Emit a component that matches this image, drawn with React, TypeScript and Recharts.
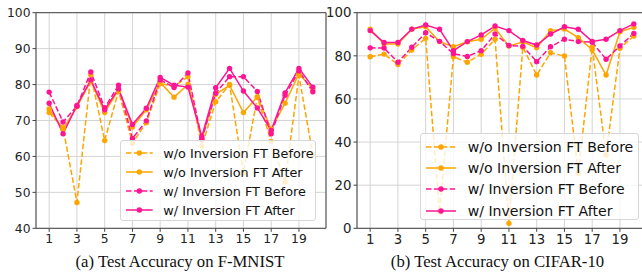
import React from "react";
import { LineChart, Line, XAxis, YAxis, CartesianGrid, ReferenceLine } from "recharts";

const ORANGE = "#ffa500";
const PINK = "#ff1493";
const DASH = "5.5 2.4";

const runs = [1, 2, 3, 4, 5, 6, 7, 8, 9, 10, 11, 12, 13, 14, 15, 16, 17, 18, 19, 20];
const xTicks = [1, 3, 5, 7, 9, 11, 13, 15, 17, 19];

// (a) F-MNIST
const fmWoBefore = [72.2, 68.0, 47.2, 82.7, 64.4, 78.2, 63.7, 69.4, 80.3, 79.5, 82.2, 62.8, 75.2, 80.0, 55.4, 76.5, 64.2, 52.9, 82.5, 60.5];
const fmWoAfter = [73.2, 67.5, 73.8, 81.0, 72.2, 78.5, 68.2, 73.0, 80.6, 76.5, 80.0, 65.0, 77.3, 79.8, 72.2, 76.6, 67.6, 74.8, 83.0, 78.8];
const fmWBefore = [77.9, 69.6, 74.0, 83.5, 73.5, 79.8, 65.0, 69.9, 81.3, 79.2, 83.2, 64.8, 77.6, 82.2, 82.2, 78.1, 66.3, 77.0, 83.8, 78.0];
const fmWAfter = [74.8, 66.3, 74.2, 81.3, 73.0, 78.8, 68.9, 73.4, 82.0, 79.8, 79.3, 65.5, 79.1, 84.5, 78.2, 73.5, 67.2, 77.7, 84.5, 79.3];
const fmYTicks = [40, 50, 60, 70, 80, 90, 100];

// (b) CIFAR-10
const cfWoBefore = [79.6, 80.8, 76.0, 82.7, 88.1, 7.5, 79.6, 77.0, 80.7, 87.7, 2.3, 84.0, 71.1, 81.4, 79.9, 25.5, 84.0, 34.0, 83.5, 89.2];
const cfWoAfter = [92.4, 85.5, 85.5, 92.4, 93.5, 86.6, 84.2, 86.5, 87.7, 92.8, 84.5, 86.5, 83.7, 91.7, 92.4, 88.4, 82.8, 71.1, 91.2, 93.2];
const cfWBefore = [83.7, 83.6, 77.0, 84.0, 90.7, 86.7, 81.0, 79.7, 82.4, 90.1, 84.8, 84.4, 77.3, 84.2, 87.7, 86.6, 86.3, 78.4, 84.6, 90.4];
const cfWAfter = [91.7, 86.2, 86.2, 92.4, 94.3, 92.3, 82.4, 86.6, 89.7, 93.8, 91.7, 87.1, 85.0, 90.1, 93.5, 92.3, 86.7, 87.7, 91.7, 94.8];
const cfYTicks = [0, 20, 40, 60, 80, 100];

const SERIES = [
  { key: "woBefore", name: "w/o Inversion FT Before", color: ORANGE, dash: DASH },
  { key: "woAfter", name: "w/o Inversion FT After", color: ORANGE, dash: undefined },
  { key: "wBefore", name: "w/ Inversion FT Before", color: PINK, dash: DASH },
  { key: "wAfter", name: "w/ Inversion FT After", color: PINK, dash: undefined },
];

const build = (a: number[], b: number[], c: number[], d: number[]) =>
  runs.map((run, i) => ({ run, woBefore: a[i], woAfter: b[i], wBefore: c[i], wAfter: d[i] }));

const fmData = build(fmWoBefore, fmWoAfter, fmWBefore, fmWAfter);
const cfData = build(cfWoBefore, cfWoAfter, cfWBefore, cfWAfter);

const SANS = "'DejaVu Sans', sans-serif";
const AXIS = "#444";

function Legend2({ box, rowH, fontSize, handleW, gap }: any) {
  return (
    <div
      style={{
        position: "absolute",
        ...box,
        boxSizing: "border-box",
        background: "rgba(255,255,255,0.8)",
        border: "1px solid #d6d6d6",
        borderRadius: 3,
        padding: "3px 0 0 5px",
        fontFamily: SANS,
        fontSize,
        color: "#111",
      }}
    >
      {SERIES.map((s) => (
        <div key={s.key} style={{ height: rowH, display: "flex", alignItems: "center", whiteSpace: "nowrap" }}>
          <svg width={handleW} height={8} style={{ marginRight: gap, overflow: "visible" }}>
            <line x1={0} y1={4} x2={handleW} y2={4} stroke={s.color} strokeWidth={1.5} strokeDasharray={s.dash} />
            <circle cx={handleW / 2} cy={4} r={2.7} fill={s.color} />
          </svg>
          <span>{s.name}</span>
        </div>
      ))}
    </div>
  );
}

function Panel({ data, yDomain, yTicks, left, yAxisW, fontSize, legend, caption, captionX }: any) {
  return (
    <>
      <div style={{ position: "absolute", left, top: 0 }}>
        <LineChart
          width={340}
          height={250}
          data={data}
          margin={{ top: 12.7, right: 340 - yAxisW - 290, bottom: 0, left: 0 }}
        >
          <CartesianGrid stroke="#d4d4d4" strokeWidth={1} />
          <XAxis
            dataKey="run"
            type="number"
            domain={[0.05, 20.95]}
            ticks={xTicks}
            interval={0}
            allowDataOverflow
            height={21.7}
            tickSize={3.5}
            tickMargin={2.5}
            stroke={AXIS}
            tick={{ fill: "#222", fontSize, fontFamily: SANS }}
          />
          <YAxis
            type="number"
            domain={yDomain}
            ticks={yTicks}
            interval={0}
            allowDataOverflow
            width={yAxisW}
            tickSize={3.5}
            tickMargin={2}
            stroke={AXIS}
            tick={{ fill: "#222", fontSize, fontFamily: SANS }}
          />
          <ReferenceLine y={yDomain[1]} stroke={AXIS} />
          <ReferenceLine x={20.95} stroke={AXIS} />
          {SERIES.map((s) => (
            <Line
              key={s.key}
              type="linear"
              dataKey={s.key}
              name={s.name}
              stroke={s.color}
              strokeWidth={1.5}
              strokeDasharray={s.dash}
              dot={{ r: 2.7, fill: s.color, stroke: s.color, strokeWidth: 0, strokeDasharray: "none" }}
              activeDot={false}
              isAnimationActive={false}
            />
          ))}
        </LineChart>
        <Legend2 {...legend} />
      </div>
      <div
        style={{
          position: "absolute",
          left: captionX - 160,
          width: 320,
          top: 251.5,
          lineHeight: "20px",
          textAlign: "center",
          fontFamily: "'Liberation Serif', 'Times New Roman', serif",
          fontSize: 16.7,
          color: "#111",
        }}
      >
        {caption}
      </div>
    </>
  );
}

export default function App() {
  return (
    <div
      style={{
        position: "absolute",
        left: 0,
        top: 0,
        width: 642,
        height: 276,
        overflow: "hidden",
        background: "#fff",
      }}
    >
      <Panel
        data={cfData}
        yDomain={[0, 100]}
        yTicks={cfYTicks}
        left={320}
        yAxisW={37}
        fontSize={13.3}
        legend={{ box: { left: 100, top: 132.7, width: 219, height: 87.3 }, rowH: 21.1, fontSize: 14.1, handleW: 30, gap: 11.7 }}
        caption="(b) Test Accuracy on CIFAR-10"
        captionX={497.5}
      />
      <Panel
        data={fmData}
        yDomain={[40, 100]}
        yTicks={fmYTicks}
        left={0}
        yAxisW={36}
        fontSize={12.3}
        legend={{ box: { left: 120, top: 140, width: 196, height: 80.7 }, rowH: 18.9, fontSize: 12.8, handleW: 26.7, gap: 10.6 }}
        caption="(a) Test Accuracy on F-MNIST"
        captionX={180}
      />
    </div>
  );
}
